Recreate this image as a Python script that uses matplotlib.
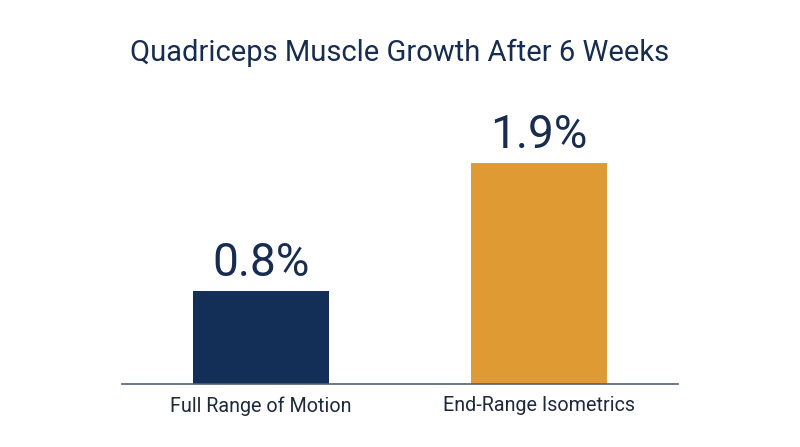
import matplotlib
matplotlib.use("Agg")
import matplotlib.pyplot as plt

categories = ["Full Range of Motion", "End-Range Isometrics"]
values = [0.8, 1.9]
labels = ["0.8%", "1.9%"]
colors = ["#132E57", "#E09A33"]
title = "Quadriceps Muscle Growth After 6 Weeks"

plt.rcParams['font.family'] = ['Roboto', 'DejaVu Sans']

fig = plt.figure(figsize=(8.0, 4.47), dpi=100)
ax = fig.add_axes([0.1525, 0.1405, 0.695, 0.60])
x = list(range(len(categories)))
ax.bar(x, values, width=0.486, color=colors)
ax.set_xlim(-0.5, 1.5)
ax.set_ylim(0, 2.3)
for xi, v, lab in zip(x, values, labels):
    ax.annotate(lab, (xi, v), xytext=(0, 10.8), textcoords="offset points",
                ha="center", va="baseline", fontsize=33, color="#172C4E")
ax.set_xticks(x)
ax.set_xticklabels(categories, fontsize=14.2, color="#1E2A3C")
ax.tick_params(axis="x", length=0, pad=8.5)
ax.set_yticks([])
for s in ["top", "right", "left"]:
    ax.spines[s].set_visible(False)
ax.spines["bottom"].set_color("#4F6178")
ax.spines["bottom"].set_linewidth(1.2)
fig.text(0.5, 0.8635, title, ha="center", va="baseline", fontsize=21, color="#172C4E")
fig.savefig("out.png", dpi=100, facecolor="white")
